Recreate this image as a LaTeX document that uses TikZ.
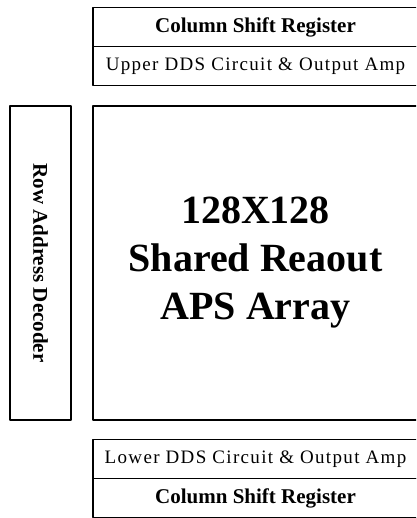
\documentclass[tikz,border=0pt]{standalone}
\usepackage{fontspec}
\setmainfont{Liberation Serif}
\newfontfamily\widefont[LetterSpace=7]{Liberation Serif}
\usetikzlibrary{positioning}
\begin{document}
\begin{tikzpicture}[x=1pt, y=-1pt, line join=round,
    blk/.style={draw, line width=1.6pt, inner sep=0pt, outer sep=0pt, minimum width=325pt, minimum height=39pt},
    boldlabel/.style={font=\fontsize{21}{24}\selectfont\bfseries},
    thinlabel/.style={font=\widefont\fontsize{19}{22}\selectfont}]
  \useasboundingbox (0,0) rectangle (416,518);
  \clip (0,0) rectangle (416,518);
  % upper readout blocks
  \node[blk, boldlabel] (csrup) at (255.5,27) {Column Shift Register};
  \node[blk, thinlabel, below=0pt of csrup] (ddsup) {Upper DDS Circuit \& Output Amp};
  % pixel array and row decoder
  \node[blk, minimum height=314pt, align=center, font=\fontsize{40}{48}\selectfont\bfseries] (array) at (255.5,263) {128X128\\Shared Reaout\\APS Array};
  \node[blk, boldlabel, rotate=-90, minimum width=314pt, minimum height=61pt] (rowdec) at (40.5,263) {Row Address Decoder};
  % lower readout blocks
  \node[blk, thinlabel] (ddslow) at (255.5,459) {Lower DDS Circuit \& Output Amp};
  \node[blk, boldlabel, below=0pt of ddslow] (csrlow) {Column Shift Register};
\end{tikzpicture}
\end{document}
